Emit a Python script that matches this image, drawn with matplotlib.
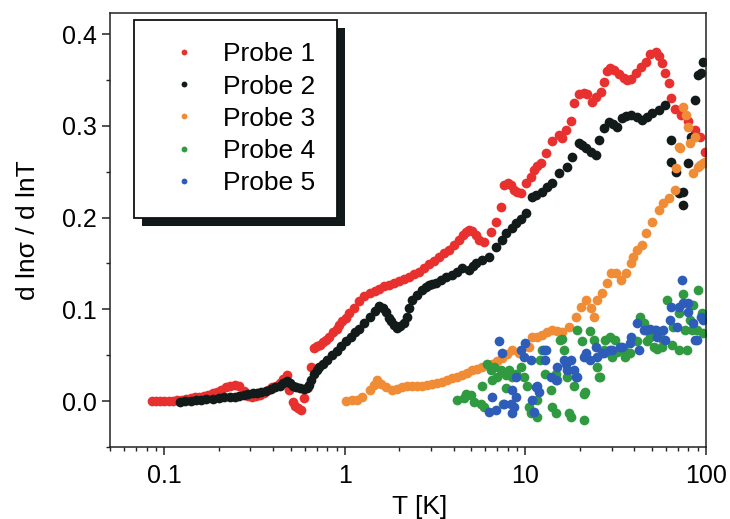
import matplotlib.pyplot as plt
from matplotlib.patches import Rectangle

plt.rcParams['font.family'] = ['Liberation Sans', 'DejaVu Sans']

# Probe 1
t1 = [0.085, 0.09, 0.095, 0.10, 0.106, 0.112, 0.118, 0.125, 0.132, 0.14, 0.148, 0.156,
      0.165, 0.175, 0.185, 0.196, 0.207, 0.219, 0.232, 0.245, 0.26, 0.275, 0.29, 0.305,
      0.32, 0.337, 0.355, 0.375, 0.395, 0.415, 0.435, 0.455, 0.475, 0.493, 0.513, 0.53,
      0.547, 0.575, 0.597, 0.621, 0.653, 0.678, 0.70, 0.73, 0.76, 0.79, 0.82, 0.86, 0.90,
      0.93, 0.97, 1.01, 1.06, 1.12, 1.20, 1.28, 1.37, 1.46, 1.55, 1.65, 1.76, 1.88, 2.0,
      2.13, 2.27, 2.42, 2.58, 2.75, 2.93, 3.12, 3.33, 3.55, 3.78, 4.03, 4.29, 4.5, 4.69,
      4.88, 5.06, 5.3, 5.53, 5.9, 6.44, 6.87, 7.32, 7.61, 8.0, 8.32, 8.64, 9.0, 9.44,
      10.06, 10.7, 11.1, 11.6, 12.2, 13.0, 14.0, 15.3, 15.9, 16.8, 17.8, 18.5, 19.8, 21.0,
      21.9, 23.3, 24.5, 26.1, 27.2, 28.2, 29.5, 30.8, 32.9, 35.0, 36.5, 38.3, 40.8, 43.5,
      46.3, 49.3, 52.6, 54.7, 56.8, 59.7, 62.1, 63.7, 67.8, 73.2, 80.0, 87.5, 93.3, 99.4]
y1 = [0.0, 0.0, 0.0, 0.0, 0.0, 0.0, 0.001, 0.001, 0.002, 0.003, 0.004, 0.005,
      0.006, 0.007, 0.009, 0.010, 0.012, 0.015, 0.017, 0.018, 0.017, 0.011, 0.006, 0.005,
      0.006, 0.007, 0.009, 0.012, 0.015, 0.017, 0.020, 0.024, 0.028, 0.012, -0.001, -0.005,
      -0.008, -0.010, 0.003, 0.015, 0.037, 0.058, 0.060, 0.061, 0.064, 0.067, 0.070, 0.075, 0.079,
      0.083, 0.087, 0.091, 0.096, 0.102, 0.109, 0.115, 0.118, 0.120, 0.122, 0.125, 0.127, 0.129, 0.131,
      0.133, 0.135, 0.138, 0.141, 0.145, 0.149, 0.153, 0.157, 0.161, 0.165, 0.170, 0.176, 0.181, 0.184,
      0.186, 0.185, 0.181, 0.176, 0.173, 0.184, 0.195, 0.212, 0.235, 0.238, 0.235, 0.230, 0.228, 0.227,
      0.238, 0.244, 0.252, 0.256, 0.259, 0.270, 0.283, 0.290, 0.287, 0.295, 0.305, 0.325, 0.335, 0.336,
      0.335, 0.326, 0.331, 0.337, 0.348, 0.360, 0.363, 0.361, 0.357, 0.352, 0.350, 0.351, 0.358, 0.364,
      0.370, 0.378, 0.381, 0.376, 0.368, 0.358, 0.347, 0.330, 0.318, 0.312, 0.305, 0.296, 0.288, 0.272]

# Probe 2
t2 = [0.122, 0.13, 0.14, 0.15, 0.16, 0.17, 0.185, 0.20, 0.215, 0.23, 0.245, 0.26, 0.275,
      0.29, 0.308, 0.325, 0.345, 0.368, 0.39, 0.41, 0.435, 0.455, 0.475, 0.495, 0.513, 0.535,
      0.561, 0.59, 0.613, 0.633, 0.653, 0.678, 0.70, 0.723, 0.76, 0.80, 0.853, 0.90, 0.95,
      1.02, 1.08, 1.14, 1.20, 1.28, 1.37, 1.46, 1.55, 1.62, 1.69, 1.75, 1.81, 1.88, 1.95,
      2.03, 2.13, 2.21, 2.28, 2.36, 2.5, 2.68, 2.8, 2.93, 3.05, 3.20, 3.4, 3.64, 3.93, 4.2,
      4.46, 4.88, 5.1, 5.33, 5.76, 6.28, 6.87, 7.41, 7.80, 8.41, 8.85, 9.44, 10.06, 10.9,
      11.5, 12.3, 13.1, 14.0, 15.3, 16.9, 18.1, 19.8, 20.7, 21.6, 23.0, 24.5, 25.5, 27.2,
      28.9, 30.5, 32.0, 34.1, 36.3, 38.7, 41.3, 44.0, 47.0, 50.0, 54.7, 59.7, 63.7, 64.4,
      68.7, 70.5, 75.1, 75.1, 80.0, 83.2, 87.5, 90.9, 94.5, 96.9]
y2 = [-0.001, 0.0, 0.0, 0.001, 0.001, 0.002, 0.002, 0.003, 0.004, 0.004, 0.005, 0.006, 0.007,
      0.008, 0.009, 0.009, 0.010, 0.011, 0.013, 0.015, 0.017, 0.020, 0.022, 0.020, 0.017, 0.015,
      0.014, 0.013, 0.014, 0.018, 0.023, 0.030, 0.034, 0.037, 0.041, 0.045, 0.050, 0.055, 0.060,
      0.066, 0.070, 0.075, 0.079, 0.085, 0.092, 0.098, 0.104, 0.101, 0.097, 0.091, 0.087, 0.083, 0.080,
      0.082, 0.085, 0.092, 0.102, 0.110, 0.116, 0.121, 0.124, 0.127, 0.128, 0.129, 0.132, 0.135, 0.137, 0.141,
      0.145, 0.143, 0.147, 0.150, 0.154, 0.157, 0.168, 0.176, 0.183, 0.189, 0.194, 0.198, 0.205, 0.222,
      0.225, 0.228, 0.233, 0.238, 0.249, 0.255, 0.266, 0.281, 0.279, 0.276, 0.272, 0.268, 0.285, 0.298,
      0.304, 0.302, 0.299, 0.309, 0.311, 0.312, 0.310, 0.306, 0.310, 0.314, 0.317, 0.323, 0.285, 0.261,
      0.250, 0.227, 0.228, 0.214, 0.259, 0.288, 0.328, 0.355, 0.358, 0.370]

# Probe 3
t3 = [1.02, 1.09, 1.16, 1.25, 1.37, 1.45, 1.51, 1.59, 1.69, 1.83, 1.95, 2.08, 2.21, 2.36,
      2.52, 2.68, 2.85, 3.04, 3.24, 3.46, 3.68, 3.93, 4.2, 4.46, 4.75, 5.06, 5.4, 5.76, 6.1,
      6.53, 6.96, 7.41, 7.9, 8.41, 9.2, 10.5, 10.9, 11.6, 12.3, 13.1, 14.0, 14.9, 15.9, 17.4,
      19.0, 20.3, 21.6, 23.0, 23.9, 24.8, 26.5, 28.2, 29.7, 31.6, 33.7, 35.9, 38.3, 39.7,
      41.3, 44.0, 46.3, 50.0, 54.7, 58.2, 62.1, 67.8, 68.7, 70.5, 72.3, 75.1, 77.1, 80.0,
      82.0, 85.3, 86.5, 90.9, 93.0, 96.9, 99.4]
y3 = [0.0, 0.001, 0.001, 0.005, 0.012, 0.018, 0.023, 0.019, 0.015, 0.012, 0.013, 0.015, 0.016, 0.017,
      0.016, 0.017, 0.018, 0.019, 0.020, 0.021, 0.023, 0.025, 0.026, 0.028, 0.031, 0.034, 0.035, 0.037, 0.039,
      0.041, 0.044, 0.047, 0.051, 0.056, 0.052, 0.059, 0.070, 0.070, 0.072, 0.075, 0.077, 0.076, 0.075, 0.081,
      0.092, 0.103, 0.110, 0.101, 0.092, 0.110, 0.118, 0.129, 0.140, 0.140, 0.132, 0.140, 0.150, 0.157,
      0.165, 0.170, 0.183, 0.195, 0.208, 0.216, 0.221, 0.230, 0.254, 0.277, 0.276, 0.321, 0.312, 0.299,
      0.281, 0.249, 0.288, 0.255, 0.257, 0.259, 0.261]

# Probe 4
t4 = [4.20, 4.57, 4.68, 4.98, 5.19, 5.65, 5.90, 5.77, 6.15, 6.42, 6.56, 6.70, 6.99, 7.29, 7.55,
      7.77, 7.78, 8.11, 8.45, 8.82, 9.40, 9.81, 10.2, 10.5, 10.7, 11.6, 11.6, 12.1, 12.4, 12.9,
      13.8, 14.1, 14.7, 14.7, 15.0, 15.6, 16.0, 16.3, 17.0, 17.4, 17.8, 18.5, 19.3, 20.6, 21.0,
      21.0, 21.5, 22.9, 23.9, 24.9, 25.5, 26.0, 27.2, 27.7, 29.6, 30.2, 31.5, 32.2, 35.0, 35.8,
      38.1, 41.5, 43.3, 45.2, 47.1, 49.2, 51.3, 52.4, 53.5, 55.8, 57.0, 58.2, 60.7, 64.7, 66.1,
      70.5, 70.5, 75.1, 76.7, 78.3, 81.7, 83.4, 85.3, 88.9, 90.8, 94.8, 96.8]
y4 = [0.001, 0.003, 0.008, 0.007, -0.001, -0.003, -0.006, 0.016, 0.041, 0.034, 0.023, 0.037, 0.026, 0.034, -0.003,
      0.028, 0.014, 0.034, 0.026, 0.030, 0.037, 0.026, 0.016, -0.006, -0.013, -0.017, 0.001, 0.045, 0.056, 0.030,
      0.012, -0.006, -0.013, 0.030, 0.023, 0.067, 0.068, 0.056, 0.026, -0.013, -0.017, 0.016, 0.077, 0.065, 0.008,
      -0.021, 0.010, 0.076, 0.067, 0.037, 0.026, 0.026, 0.056, 0.067, 0.070, 0.048, 0.067, 0.054, 0.056, 0.048,
      0.052, 0.065, 0.092, 0.085, 0.065, 0.070, 0.059, 0.077, 0.057, 0.074, 0.059, 0.067, 0.110, 0.061, 0.081,
      0.096, 0.056, 0.117, 0.077, 0.056, 0.088, 0.077, 0.105, 0.077, 0.121, 0.096, 0.074]

# Probe 5
t5 = [6.28, 6.56, 6.84, 7.14, 7.45, 7.61, 8.28, 8.45, 8.45, 8.64, 8.82, 8.82, 9.40, 9.81, 10.0,
      10.7, 10.9, 11.1, 11.4, 11.6, 11.9, 12.7, 12.9, 13.0, 13.8, 14.8, 15.0, 16.3, 16.7, 17.0,
      17.8, 18.5, 19.0, 19.3, 21.0, 21.6, 22.9, 24.5, 24.9, 26.5, 27.2, 29.6, 30.1, 33.6, 34.1,
      38.1, 38.7, 41.5, 42.4, 45.2, 46.3, 49.2, 52.6, 53.5, 58.2, 59.7, 63.4, 64.4, 69.0, 70.5,
      73.5, 75.1, 80.0, 80.0, 85.3, 87.5, 88.9, 94.5, 96.8]
y5 = [-0.012, 0.005, -0.010, 0.065, 0.052, -0.003, -0.003, -0.013, 0.012, -0.006, 0.005, 0.026, 0.056, 0.048, 0.063,
      0.045, 0.001, -0.012, 0.015, 0.016, 0.010, 0.056, 0.045, 0.056, 0.026, 0.023, 0.037, 0.045, 0.041, 0.034,
      0.045, 0.034, 0.026, 0.026, 0.048, 0.052, 0.045, 0.059, 0.048, 0.052, 0.052, 0.056, 0.056, 0.059, 0.059,
      0.063, 0.070, 0.085, 0.056, 0.077, 0.077, 0.079, 0.077, 0.070, 0.077, 0.067, 0.088, 0.103, 0.081, 0.103,
      0.132, 0.107, 0.097, 0.107, 0.085, 0.067, 0.067, 0.092, 0.088]

labels = ['Probe 1', 'Probe 2', 'Probe 3', 'Probe 4', 'Probe 5']
colors = ['#e8302f', '#121a1a', '#f08c35', '#2f9a40', '#2d5db8']
series = [(t1, y1), (t2, y2), (t3, y3), (t4, y4), (t5, y5)]

fig = plt.figure(figsize=(7.3, 5.19), dpi=100)
ax = fig.add_axes([0.1507, 0.1387, 0.8163, 0.8363])

for (t, y), c, lab in zip(series, colors, labels):
    ax.plot(t, y, 'o', color=c, ms=7, mec='none', label=lab)

ax.set_xscale('log')
ax.set_xlim(0.05, 100)
ax.set_ylim(-0.05, 0.423)
ax.set_xticks([0.1, 1, 10, 100])
ax.set_xticklabels(['0.1', '1', '10', '100'])
ax.set_yticks([0.0, 0.1, 0.2, 0.3, 0.4])
ax.set_yticks([-0.05, 0.05, 0.15, 0.25, 0.35], minor=True)
ax.set_yticklabels(['0.0', '0.1', '0.2', '0.3', '0.4'])

for s in ax.spines.values():
    s.set_linewidth(1.1)
    s.set_color('#222222')
ax.tick_params(which='major', length=6, width=1.1, labelsize=18, pad=6, color='#222222')
ax.tick_params(axis='y', which='major', pad=3.5)
ax.tick_params(which='minor', length=3, width=1.0, color='#222222')

ax.set_xlabel('T [K]', fontsize=19, labelpad=5, x=0.52)
ax.set_ylabel('d ln\u03c3 / d lnT', fontsize=19, labelpad=16)

leg = ax.legend(loc='upper left', bbox_to_anchor=(0.040, 0.984), fontsize=19,
                frameon=True, fancybox=False, edgecolor='#111111', framealpha=1,
                handlelength=2.1, handletextpad=0.42, labelspacing=0.31,
                borderpad=0.85, borderaxespad=0, markerscale=0.6)
leg.get_frame().set_linewidth(1.3)

# black drop shadow under the legend frame
fig.canvas.draw()
bb = leg.get_frame().get_window_extent()
ax.add_patch(Rectangle((bb.x0 + 8, bb.y0 - 8), bb.width, bb.height,
                       transform=None, facecolor='#111a1a', edgecolor='none', zorder=4.9))

fig.savefig('out.png', dpi=100)
